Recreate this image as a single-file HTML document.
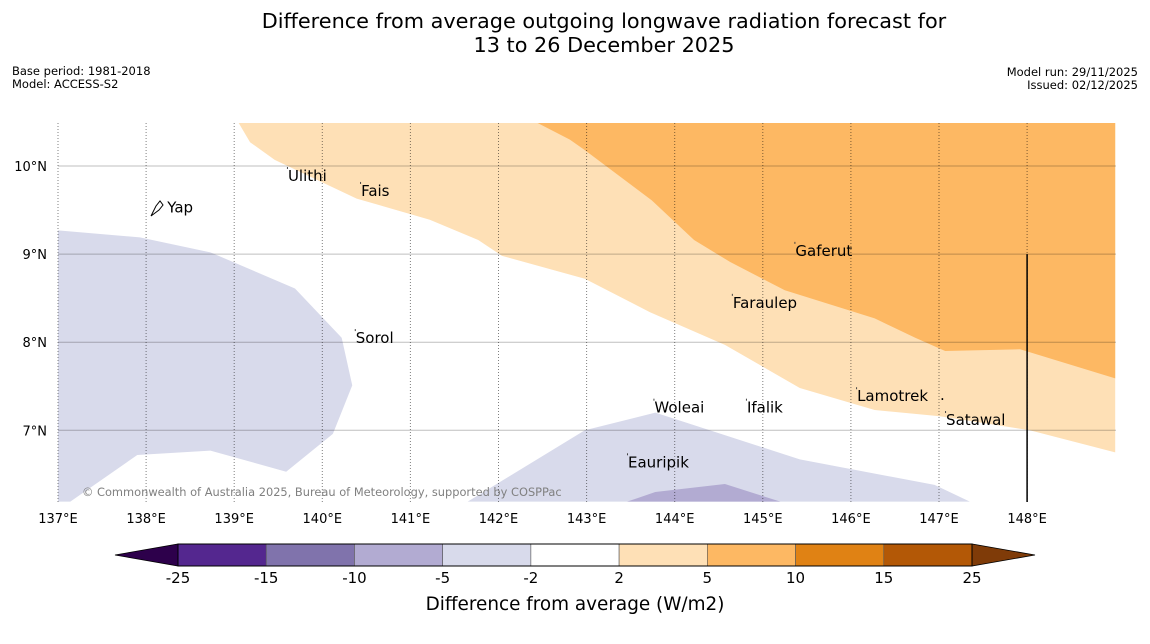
<!DOCTYPE html>
<html><head><meta charset="utf-8">
<style>
html,body{margin:0;padding:0;background:#fff;}
svg{display:block;font-family:"DejaVu Sans","Liberation Sans",sans-serif;}
</style></head>
<body>
<svg id="chart" width="1150" height="644" viewBox="0 0 1150 644" xmlns="http://www.w3.org/2000/svg">
<text x="604" y="28" font-size="20.8" text-anchor="middle">Difference from average outgoing longwave radiation forecast for</text>
<text x="604" y="52" font-size="20.8" text-anchor="middle">13 to 26 December 2025</text>
<text x="12" y="75" font-size="11.5">Base period: 1981-2018</text>
<text x="12" y="88" font-size="11.5">Model: ACCESS-S2</text>
<text x="1138" y="76" font-size="11.5" text-anchor="end">Model run: 29/11/2025</text>
<text x="1138" y="89" font-size="11.5" text-anchor="end">Issued: 02/12/2025</text>
<g id="map"></g>
<g id="cbar"></g>
<text x="575" y="610" font-size="18.4" text-anchor="middle">Difference from average (W/m2)</text>
</svg>
<script>
const lonTicks=[137,138,139,140,141,142,143,144,145,146,147,148];
const latTicks=[7,8,9,10];
const levels=[-25,-15,-10,-5,-2,2,5,10,15,25];
const levelColors=["#54278f","#8073ac","#b2abd2","#d8daeb","#ffffff","#fee0b6","#fdb863","#e08214","#b35806"];
const regionLightOrange=[[139.05,10.49],[139.18,10.27],[139.46,10.07],[140.39,9.63],[141.22,9.39],[141.77,9.16],[142.04,8.98],[142.98,8.72],[143.72,8.34],[144.57,7.97],[145.42,7.48],[146.27,7.23],[147.01,7.16],[148.03,7.0],[149,6.75],[149,10.49]];
const regionOrange=[[142.44,10.49],[142.81,10.3],[142.98,10.18],[143.74,9.61],[144.22,9.16],[144.63,8.91],[145.25,8.59],[146.27,8.27],[146.73,8.05],[147.07,7.9],[147.92,7.92],[149,7.59],[149,10.49]];
const regionPurpleWest=[[137,9.27],[137.93,9.19],[138.73,9.02],[139.69,8.61],[140.22,8.05],[140.34,7.51],[140.12,6.96],[139.59,6.53],[138.73,6.77],[137.9,6.72],[137.14,6.19],[137,6.19]];
const regionPurpleSouth=[[141.65,6.19],[142.98,7.0],[143.78,7.2],[145.42,6.67],[146.95,6.38],[147.35,6.19]];
const regionPurpleDark=[[143.46,6.19],[143.78,6.3],[144.57,6.39],[145.2,6.19]];
const islandNames=["Ulithi","Fais","Yap","Gaferut","Faraulep","Sorol","Lamotrek","Woleai","Ifalik","Satawal","Eauripik"];
const islandLon=[139.61,140.44,138.24,145.37,144.66,140.38,146.07,143.77,144.82,147.08,143.47];
const islandLat=[9.83,9.66,9.47,8.98,8.39,7.99,7.33,7.20,7.20,7.06,6.58];

const X0=58,Y0=123,X1=1116,Y1=502;
const x=lon=>X0+(lon-137)*88.1;
const y=lat=>166+(10-lat)*88.1;
const NS="http://www.w3.org/2000/svg";
function mk(tag,attrs,parent){const e=document.createElementNS(NS,tag);for(const k in attrs)e.setAttribute(k,attrs[k]);parent.appendChild(e);return e;}
const map=document.getElementById('map');
const cp=mk('clipPath',{id:'clip'},mk('defs',{},map));
mk('rect',{x:X0,y:Y0,width:X1-X0,height:Y1-Y0},cp);
const g=mk('g',{'clip-path':'url(#clip)'},map);
function poly(pts,fill,name){const p=mk('polygon',{points:pts.map(q=>x(q[0])+','+y(q[1])).join(' '),fill:fill},g);

}
poly(regionLightOrange,levelColors[5],'region-2-to-5');
poly(regionOrange,levelColors[6],'region-5-to-10');
poly(regionPurpleWest,levelColors[3],'region-west-minus5-to-minus2');
poly(regionPurpleSouth,levelColors[3],'region-south-minus5-to-minus2');
poly(regionPurpleDark,levelColors[2],'region-minus10-to-minus5');
latTicks.forEach(l=>{const ln=mk('line',{x1:X0,x2:X1,y1:y(l),y2:y(l),stroke:'#000','stroke-opacity':0.25,'stroke-width':1},map);


const t=mk('text',{x:47,y:y(l)+5,'font-size':13,'text-anchor':'end'},map);t.textContent=l+'°N';

});
lonTicks.forEach(l=>{const ln=mk('line',{x1:x(l),x2:x(l),y1:Y0,y2:Y1,stroke:'#000','stroke-opacity':0.5,'stroke-width':1,'stroke-dasharray':'1,2'},map);


const t=mk('text',{x:x(l),y:523,'font-size':13,'text-anchor':'middle'},map);t.textContent=l+'°E';

});
const bl=mk('line',{x1:x(148),x2:x(148),y1:y(9),y2:Y1,stroke:'#000','stroke-width':1.5},map);


islandNames.forEach((n,i)=>{const px=x(islandLon[i]),py=y(islandLat[i]);
if(n!=='Yap'){const d=mk('rect',{x:px-1,y:py-14,width:1,height:2,fill:'#444'},map);

}
const t=mk('text',{x:px,y:py,'font-size':15},map);t.textContent=n;

});
const yap=mk('path',{d:'M151,216 L156,206 L160,201 L163,205 L159,210 Z',fill:'none',stroke:'#000','stroke-width':1},map);


const dot=mk('text',{x:940,y:400,'font-size':15},map);dot.textContent='.';
const cr=mk('text',{x:82,y:496,'font-size':11.4,fill:'#808080'},map);cr.textContent='© Commonwealth of Australia 2025, Bureau of Meteorology, supported by COSPPac';



// colorbar
const cb=document.getElementById('cbar');
const CB0=178,CB1=972,CT=544,CBt=566,n=levels.length-1,w=(CB1-CB0)/n;
const lo=mk('polygon',{points:`${CB0},${CT} ${CB0},${CBt} 115,555`,fill:'#2d004b',stroke:'#000','stroke-width':0.8},cb);


const hi=mk('polygon',{points:`${CB1},${CT} ${CB1},${CBt} 1035,555`,fill:'#7f3b08',stroke:'#000','stroke-width':0.8},cb);


levelColors.forEach((c,i)=>{const r=mk('rect',{x:CB0+i*w,y:CT,width:w,height:CBt-CT,fill:c,stroke:'#555','stroke-width':0.6},cb);

});
mk('rect',{x:CB0,y:CT,width:CB1-CB0,height:CBt-CT,fill:'none',stroke:'#000','stroke-width':1},cb);
levels.forEach((v,i)=>{const t=mk('text',{x:CB0+i*w,y:583,'font-size':15,'text-anchor':'middle'},cb);t.textContent=v;

});
</script>
</body></html>
